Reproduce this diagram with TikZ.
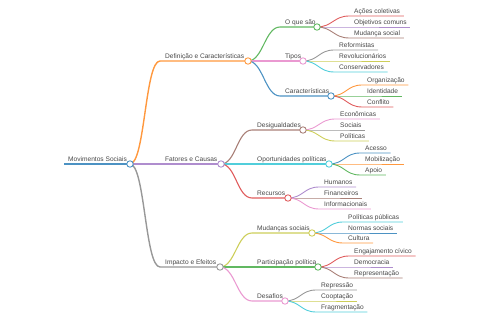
\documentclass[tikz,border=0pt]{standalone}
\usepackage{fontspec}
\setmainfont{Liberation Sans}
\usetikzlibrary{calc}
\pgfdeclarelayer{bg}
\pgfsetlayers{bg,main}
\definecolor{xBlue}{HTML}{1F77B4}
\definecolor{xOrange}{HTML}{FF7F0E}
\definecolor{xGreen}{HTML}{2CA02C}
\definecolor{xRed}{HTML}{D62728}
\definecolor{xPurple}{HTML}{9467BD}
\definecolor{xBrown}{HTML}{8C564B}
\definecolor{xPink}{HTML}{E377C2}
\definecolor{xGray}{HTML}{7F7F7F}
\definecolor{xOlive}{HTML}{BCBD22}
\definecolor{xCyan}{HTML}{17BECF}
\colorlet{cBlue}{xBlue!80!white}
\colorlet{cOrange}{xOrange!80!white}
\colorlet{cGreen}{xGreen!75!white}
\colorlet{cRed}{xRed!75!white}
\colorlet{cPurple}{xPurple!75!white}
\colorlet{cBrown}{xBrown!75!white}
\colorlet{cPink}{xPink!75!white}
\colorlet{cGray}{xGray!80!white}
\colorlet{cOlive}{xOlive!75!white}
\colorlet{cCyan}{xCyan!75!white}
\tikzset{
  lbl/.style={inner sep=0pt, anchor=base west, text=black!72, font=\fontsize{6.6}{8}\selectfont},
  dot/.style={circle, minimum size=6.4pt, inner sep=0pt, line width=0.9pt, fill=white},
  lv0/.style={line width=1.8pt},
  lv1/.style={line width=1.4pt},
  lv2/.style={line width=1.1pt},
  lv3/.style={line width=0.9pt},
}
% name, parent, xs, xe, y, color, level, text
\newcommand\mmmid[8]{%
  \coordinate (#1-s) at (#3,#5);
  \node[dot,draw=#6] (#1) at (#4,#5) {};
  \node[lbl] (#1-t) at ($(#1-s)+(5,-2.5)$) {#8};
  \begin{pgfonlayer}{bg}
  \draw[#7,#6] (#2.center) .. controls +(15,0) and +(-15,0) .. (#1-s) -- (#1.center);
  \end{pgfonlayer}
}
% name, parent, xs, y, color, text
\newcommand\mmleaf[6]{%
  \coordinate (#1-s) at (#3,#4);
  \node[lbl] (#1-t) at ($(#1-s)+(5,-2.5)$) {#6};
  \coordinate (#1-e) at ([xshift=3.5pt]#1-t.base east);
  \begin{pgfonlayer}{bg}
  \draw[lv3,#5] (#2.center) .. controls +(15,0) and +(-15,0) .. (#1-s) -- (#1-e |- #1-s);
  \end{pgfonlayer}
}
\begin{document}
\begin{tikzpicture}[x=1pt,y=-1pt]
\useasboundingbox (0,0) rectangle (480,320);
% root
\coordinate (root-s) at (64,164);
\node[dot,draw=cBlue] (root) at (130,164) {};
\node[lbl] (root-t) at ($(root-s)+(4,-2.5)$) {Movimentos Sociais};
\begin{pgfonlayer}{bg}
\draw[lv0,cBlue] (root-s) -- (root.center);
\end{pgfonlayer}
% level 1
\mmmid{def}{root}{160}{248}{61}{cOrange}{lv1}{Definição e Características}
\mmmid{fat}{root}{160}{221}{164}{cPurple}{lv1}{Fatores e Causas}
\mmmid{imp}{root}{160}{220}{267}{cGray}{lv1}{Impacto e Efeitos}
% level 2
\mmmid{oque}{def}{280}{317}{27}{cGreen}{lv2}{O que são}
\mmmid{tipos}{def}{280}{303}{61}{cPink}{lv2}{Tipos}
\mmmid{carac}{def}{280}{331}{96}{cBlue}{lv2}{Características}
\mmmid{desig}{fat}{252}{303}{130}{cBrown}{lv2}{Desigualdades}
\mmmid{oport}{fat}{252}{329}{164}{cCyan}{lv2}{Oportunidades políticas}
\mmmid{recur}{fat}{252}{288}{198}{cRed}{lv2}{Recursos}
\mmmid{mud}{imp}{252}{312}{233}{cOlive}{lv2}{Mudanças sociais}
\mmmid{part}{imp}{252}{318}{267}{cGreen}{lv2}{Participação política}
\mmmid{desaf}{imp}{252}{285}{301}{cPink}{lv2}{Desafios}
% level 3
\mmleaf{acoes}{oque}{349}{16}{cRed}{Ações coletivas}
\mmleaf{objet}{oque}{349}{27}{cPurple}{Objetivos comuns}
\mmleaf{mudsoc}{oque}{349}{38}{cBrown}{Mudança social}
\mmleaf{refor}{tipos}{334}{50}{cGray}{Reformistas}
\mmleaf{revol}{tipos}{334}{61}{cOlive}{Revolucionários}
\mmleaf{conse}{tipos}{334}{72}{cCyan}{Conservadores}
\mmleaf{organ}{carac}{362}{85}{cOrange}{Organização}
\mmleaf{ident}{carac}{362}{96}{cGreen}{Identidade}
\mmleaf{confl}{carac}{362}{107}{cRed}{Conflito}
\mmleaf{econ}{desig}{335}{119}{cPink}{Econômicas}
\mmleaf{soci}{desig}{335}{130}{cGray}{Sociais}
\mmleaf{polit}{desig}{335}{141}{cOlive}{Políticas}
\mmleaf{acesso}{oport}{360}{153}{cBlue}{Acesso}
\mmleaf{mobil}{oport}{360}{164}{cOrange}{Mobilização}
\mmleaf{apoio}{oport}{360}{175}{cGreen}{Apoio}
\mmleaf{human}{recur}{319}{187}{cPurple}{Humanos}
\mmleaf{finan}{recur}{319}{198}{cBrown}{Financeiros}
\mmleaf{infor}{recur}{319}{209}{cPink}{Informacionais}
\mmleaf{polpub}{mud}{343}{222}{cCyan}{Políticas públicas}
\mmleaf{normas}{mud}{343}{233}{cBlue}{Normas sociais}
\mmleaf{cult}{mud}{343}{243}{cOrange}{Cultura}
\mmleaf{engaj}{part}{349}{256}{cRed}{Engajamento cívico}
\mmleaf{democ}{part}{349}{267}{cPurple}{Democracia}
\mmleaf{repres}{part}{349}{278}{cBrown}{Representação}
\mmleaf{repress}{desaf}{316}{290}{cGray}{Repressão}
\mmleaf{coopt}{desaf}{316}{301}{cOlive}{Cooptação}
\mmleaf{fragm}{desaf}{316}{312}{cCyan}{Fragmentação}
\end{tikzpicture}
\end{document}
